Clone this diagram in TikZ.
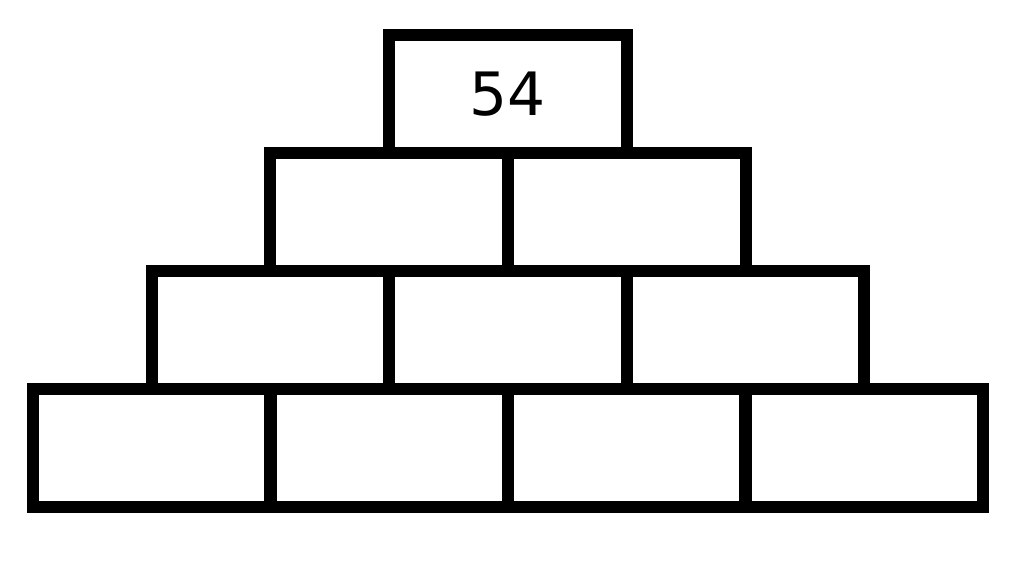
\documentclass[tikz,border=0pt]{standalone}
\usepackage{fontspec}
\setmainfont{DejaVu Sans}
\usepackage{tikz}

\begin{document}
\begin{tikzpicture}[x=0.01cm, y=-0.01cm,
    brick/.style={draw, line width=0.12cm, minimum width=2.375cm,
        minimum height=1.18cm, inner sep=0pt,
        font=\fontsize{17}{20}\selectfont}]
    \useasboundingbox (0,0) rectangle (1016,566);

    % Các hàng gạch, từ dưới lên
    \foreach \r in {0,1,2} {
        \pgfmathtruncatemacro{\n}{3-\r}
        \foreach \c in {0,...,\n} {
            \node[brick] (b-\r-\c) at ({33+237.5*(\c+0.5+\r/2)}, {448-118*\r}) {};
        }
    }

    % Viên trên đỉnh
    \node[brick] (b-3-0) at (508,94) {54};

\end{tikzpicture}
\end{document}
